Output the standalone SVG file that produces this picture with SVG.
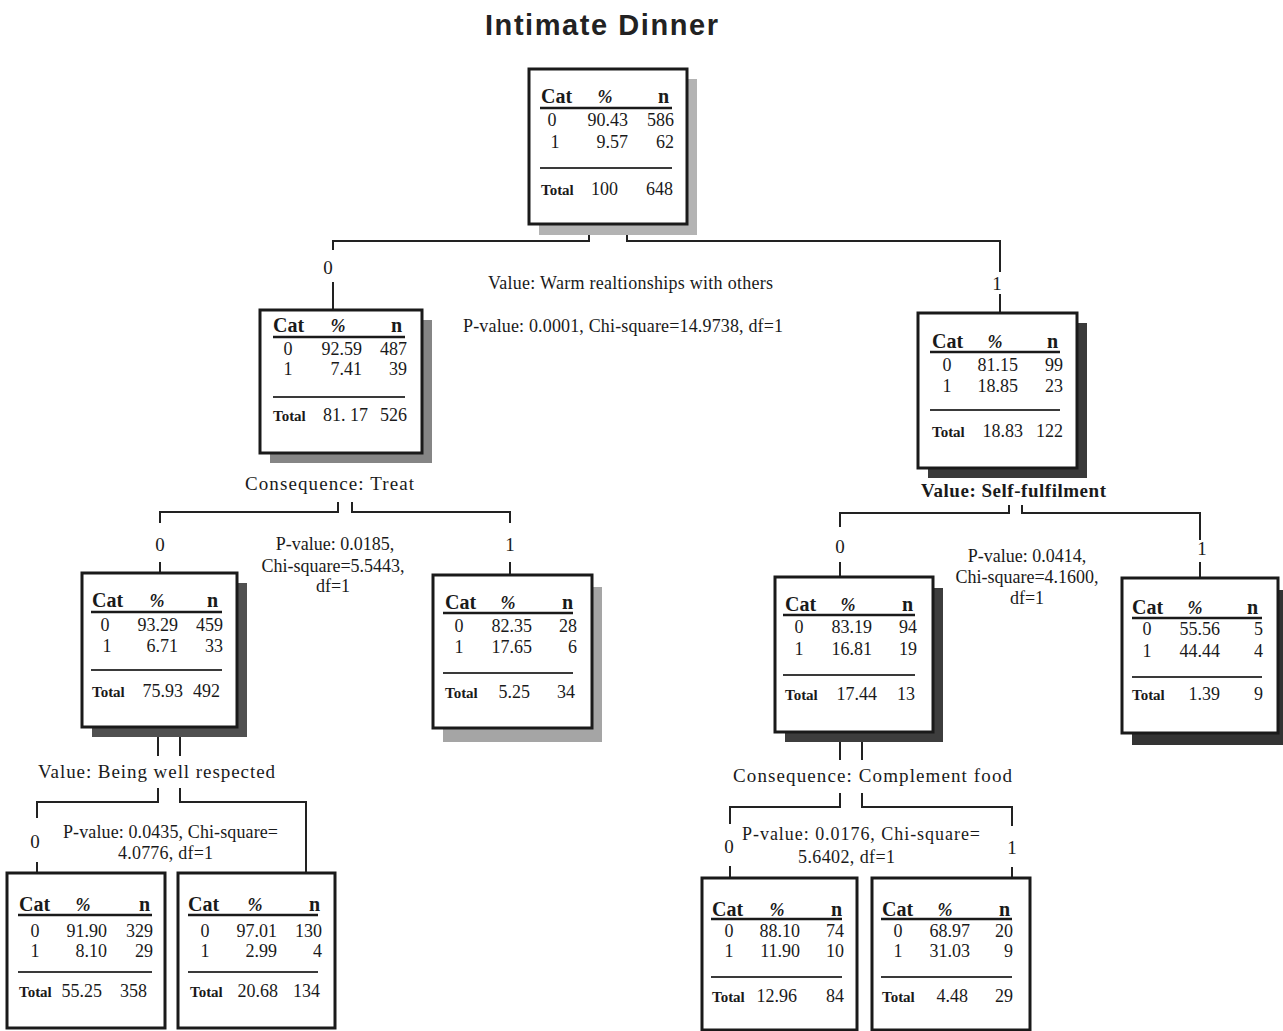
<svg xmlns="http://www.w3.org/2000/svg" width="1283" height="1031" viewBox="0 0 1283 1031">
<style>
text{fill:#1a1a1a;font-family:"Liberation Serif","DejaVu Serif",serif}
.title{font-family:"Liberation Sans",Arial,sans-serif;font-weight:bold;font-size:29px;fill:#222}
.box{fill:#fff;stroke:#1a1a1a;stroke-width:3}
.hd{font-weight:bold;font-size:20px}
.pc{font-weight:bold;font-style:italic;font-size:18px}
.v{font-size:18px}
.tot{font-weight:bold;font-size:15px}
.hl{stroke:#1a1a1a;stroke-width:2.5}
.sl{stroke:#3a3a3a;stroke-width:2}
.lbl{font-size:18px}
.big{font-size:19px}
.num{font-size:19px}
.conn{fill:none;stroke:#222;stroke-width:2}
.m{text-anchor:middle}
.e{text-anchor:end}
</style>
<rect width="1283" height="1031" fill="#fff"/>
<text class="title" x="485" y="35" textLength="233">Intimate Dinner</text>

<g id="connectors">
<path class="conn" d="M333,250 V241 H589 V233"/>
<path class="conn" d="M627,233 V241 H1000 V272"/>
<path class="conn" d="M333,282 V309"/>
<path class="conn" d="M1000,294 V313"/>
<path class="conn" d="M160,523 V512 H338 V502"/>
<path class="conn" d="M352,502 V512 H510 V523"/>
<path class="conn" d="M160,562 V573"/>
<path class="conn" d="M510,562 V575"/>
<path class="conn" d="M840,527 V513 H1009 V505"/>
<path class="conn" d="M1022,505 V513 H1200 V540"/>
<path class="conn" d="M840,562 V577"/>
<path class="conn" d="M1200,562 V578"/>
<path class="conn" d="M158,737 V756"/>
<path class="conn" d="M180,737 V756"/>
<path class="conn" d="M158,788 V802 H37 V818"/>
<path class="conn" d="M180,788 V802 H306 V873"/>
<path class="conn" d="M37,862 V873"/>
<path class="conn" d="M840,742 V760"/>
<path class="conn" d="M862,742 V760"/>
<path class="conn" d="M840,793 V807 H730 V824"/>
<path class="conn" d="M862,793 V807 H1012 V826"/>
<path class="conn" d="M730,866 V878"/>
<path class="conn" d="M1012,867 V878"/>
<text class="num m" x="328" y="274">0</text>
<text class="num m" x="997" y="290">1</text>
<text class="lbl" x="488" y="289" textLength="285">Value: Warm realtionships with others</text>
<text class="lbl" x="463" y="332" textLength="320">P-value: 0.0001, Chi-square=14.9738, df=1</text>
<text class="big" x="245" y="490" textLength="169">Consequence: Treat</text>
<text class="num m" x="160" y="551">0</text>
<text class="num m" x="510" y="551">1</text>
<text class="lbl m" x="335" y="550">P-value: 0.0185,</text>
<text class="lbl m" x="333" y="572">Chi-square=5.5443,</text>
<text class="lbl m" x="333" y="592">df=1</text>
<text class="big" x="921" y="497" textLength="185" style="font-weight:bold">Value: Self-fulfilment</text>
<text class="num m" x="840" y="553">0</text>
<text class="num m" x="1202" y="555">1</text>
<text class="lbl m" x="1027" y="562">P-value: 0.0414,</text>
<text class="lbl m" x="1027" y="583">Chi-square=4.1600,</text>
<text class="lbl m" x="1027" y="604">df=1</text>
<text class="big" x="38" y="778" textLength="237">Value: Being well respected</text>
<text class="num m" x="35" y="848">0</text>
<text class="lbl" x="63" y="838" textLength="215">P-value: 0.0435,  Chi-square=</text>
<text class="lbl" x="118" y="859" textLength="95">4.0776,  df=1</text>
<text class="big" x="733" y="782" textLength="279">Consequence:  Complement food</text>
<text class="num m" x="729" y="853">0</text>
<text class="num m" x="1012" y="854">1</text>
<text class="lbl" x="742" y="840" textLength="238">P-value: 0.0176,  Chi-square=</text>
<text class="lbl" x="798" y="863" textLength="97">5.6402,  df=1</text>
</g>

<g id="n0">
<rect x="539" y="79" width="158" height="156" fill="#b3b3b3"/>
<rect class="box" x="529" y="69" width="158" height="155"/>
<text class="hd" x="541" y="103">Cat</text><text class="pc m" x="605" y="103">%</text><text class="hd e" x="669" y="103">n</text>
<line class="hl" x1="540" y1="108" x2="672" y2="108"/>
<text class="v m" x="552" y="126">0</text><text class="v e" x="628" y="126">90.43</text><text class="v e" x="674" y="126">586</text>
<text class="v m" x="555" y="148">1</text><text class="v e" x="628" y="148">9.57</text><text class="v e" x="674" y="148">62</text>
<line class="sl" x1="540" y1="168" x2="672" y2="168"/>
<text class="tot" x="541" y="195">Total</text><text class="v e" x="618" y="195">100</text><text class="v e" x="673" y="195">648</text>
</g>

<g id="n1">
<rect x="270" y="320" width="162" height="143" fill="#858585"/>
<rect class="box" x="260" y="310" width="162" height="143"/>
<text class="hd" x="273" y="332">Cat</text><text class="pc m" x="338" y="332">%</text><text class="hd e" x="402" y="332">n</text>
<line class="hl" x1="273" y1="337" x2="405" y2="337"/>
<text class="v m" x="288" y="355">0</text><text class="v e" x="362" y="355">92.59</text><text class="v e" x="407" y="355">487</text>
<text class="v m" x="288" y="375">1</text><text class="v e" x="362" y="375">7.41</text><text class="v e" x="407" y="375">39</text>
<line class="sl" x1="273" y1="397" x2="405" y2="397"/>
<text class="tot" x="273" y="421">Total</text><text class="v e" x="368" y="421">81. 17</text><text class="v e" x="407" y="421">526</text>
</g>

<g id="n2">
<rect x="928" y="323" width="159" height="155" fill="#3a3a3a"/>
<rect class="box" x="918" y="313" width="159" height="155"/>
<text class="hd" x="932" y="348">Cat</text><text class="pc m" x="995" y="348">%</text><text class="hd e" x="1058" y="348">n</text>
<line class="hl" x1="930" y1="352" x2="1060" y2="352"/>
<text class="v m" x="947" y="371">0</text><text class="v e" x="1018" y="371">81.15</text><text class="v e" x="1063" y="371">99</text>
<text class="v m" x="947" y="392">1</text><text class="v e" x="1018" y="392">18.85</text><text class="v e" x="1063" y="392">23</text>
<line class="sl" x1="930" y1="410" x2="1060" y2="410"/>
<text class="tot" x="932" y="437">Total</text><text class="v e" x="1023" y="437">18.83</text><text class="v e" x="1063" y="437">122</text>
</g>

<g id="n3">
<rect x="92" y="583" width="155" height="154" fill="#505050"/>
<rect class="box" x="82" y="573" width="155" height="154"/>
<text class="hd" x="92" y="607">Cat</text><text class="pc m" x="157" y="607">%</text><text class="hd e" x="218" y="607">n</text>
<line class="hl" x1="91" y1="612" x2="222" y2="612"/>
<text class="v m" x="105" y="631">0</text><text class="v e" x="178" y="631">93.29</text><text class="v e" x="223" y="631">459</text>
<text class="v m" x="107" y="652">1</text><text class="v e" x="178" y="652">6.71</text><text class="v e" x="223" y="652">33</text>
<line class="sl" x1="91" y1="670" x2="222" y2="670"/>
<text class="tot" x="92" y="697">Total</text><text class="v e" x="183" y="697">75.93</text><text class="v e" x="220" y="697">492</text>
</g>

<g id="n4">
<rect x="443" y="587" width="159" height="155" fill="#a5a5a5"/>
<rect class="box" x="433" y="575" width="159" height="153"/>
<text class="hd" x="445" y="609">Cat</text><text class="pc m" x="508" y="609">%</text><text class="hd e" x="573" y="609">n</text>
<line class="hl" x1="443" y1="613" x2="573" y2="613"/>
<text class="v m" x="459" y="632">0</text><text class="v e" x="532" y="632">82.35</text><text class="v e" x="577" y="632">28</text>
<text class="v m" x="459" y="653">1</text><text class="v e" x="532" y="653">17.65</text><text class="v e" x="577" y="653">6</text>
<line class="sl" x1="443" y1="673" x2="573" y2="673"/>
<text class="tot" x="445" y="698">Total</text><text class="v e" x="530" y="698">5.25</text><text class="v e" x="575" y="698">34</text>
</g>

<g id="n5">
<rect x="785" y="588" width="158" height="154" fill="#3d3d3d"/>
<rect class="box" x="775" y="577" width="158" height="155"/>
<text class="hd" x="785" y="611">Cat</text><text class="pc m" x="848" y="611">%</text><text class="hd e" x="913" y="611">n</text>
<line class="hl" x1="783" y1="615" x2="915" y2="615"/>
<text class="v m" x="799" y="633">0</text><text class="v e" x="872" y="633">83.19</text><text class="v e" x="917" y="633">94</text>
<text class="v m" x="799" y="655">1</text><text class="v e" x="872" y="655">16.81</text><text class="v e" x="917" y="655">19</text>
<line class="sl" x1="783" y1="675" x2="915" y2="675"/>
<text class="tot" x="785" y="700">Total</text><text class="v e" x="877" y="700">17.44</text><text class="v e" x="915" y="700">13</text>
</g>

<g id="n6">
<rect x="1132" y="590" width="156" height="155" fill="#333"/>
<rect class="box" x="1122" y="578" width="156" height="155"/>
<text class="hd" x="1132" y="614">Cat</text><text class="pc m" x="1195" y="614">%</text><text class="hd e" x="1258" y="614">n</text>
<line class="hl" x1="1132" y1="618" x2="1262" y2="618"/>
<text class="v m" x="1147" y="635">0</text><text class="v e" x="1220" y="635">55.56</text><text class="v e" x="1263" y="635">5</text>
<text class="v m" x="1147" y="657">1</text><text class="v e" x="1220" y="657">44.44</text><text class="v e" x="1263" y="657">4</text>
<line class="sl" x1="1132" y1="677" x2="1262" y2="677"/>
<text class="tot" x="1132" y="700">Total</text><text class="v e" x="1220" y="700">1.39</text><text class="v e" x="1263" y="700">9</text>
</g>

<g id="n7">
<rect class="box" x="7" y="873" width="158" height="155"/>
<text class="hd" x="19" y="911">Cat</text><text class="pc m" x="83" y="911">%</text><text class="hd e" x="150" y="911">n</text>
<line class="hl" x1="18" y1="915" x2="152" y2="915"/>
<text class="v m" x="35" y="937">0</text><text class="v e" x="107" y="937">91.90</text><text class="v e" x="153" y="937">329</text>
<text class="v m" x="35" y="957">1</text><text class="v e" x="107" y="957">8.10</text><text class="v e" x="153" y="957">29</text>
<line class="sl" x1="18" y1="972" x2="152" y2="972"/>
<text class="tot" x="19" y="997">Total</text><text class="v e" x="102" y="997">55.25</text><text class="v e" x="147" y="997">358</text>
</g>

<g id="n8">
<rect class="box" x="178" y="873" width="157" height="155"/>
<text class="hd" x="188" y="911">Cat</text><text class="pc m" x="255" y="911">%</text><text class="hd e" x="320" y="911">n</text>
<line class="hl" x1="188" y1="915" x2="318" y2="915"/>
<text class="v m" x="205" y="937">0</text><text class="v e" x="277" y="937">97.01</text><text class="v e" x="322" y="937">130</text>
<text class="v m" x="205" y="957">1</text><text class="v e" x="277" y="957">2.99</text><text class="v e" x="322" y="957">4</text>
<line class="sl" x1="188" y1="972" x2="318" y2="972"/>
<text class="tot" x="190" y="997">Total</text><text class="v e" x="278" y="997">20.68</text><text class="v e" x="320" y="997">134</text>
</g>

<g id="n9">
<rect class="box" x="702" y="878" width="155" height="152"/>
<text class="hd" x="712" y="916">Cat</text><text class="pc m" x="777" y="916">%</text><text class="hd e" x="842" y="916">n</text>
<line class="hl" x1="711" y1="919" x2="842" y2="919"/>
<text class="v m" x="729" y="937">0</text><text class="v e" x="800" y="937">88.10</text><text class="v e" x="844" y="937">74</text>
<text class="v m" x="729" y="957">1</text><text class="v e" x="800" y="957">11.90</text><text class="v e" x="844" y="957">10</text>
<line class="sl" x1="711" y1="977" x2="842" y2="977"/>
<text class="tot" x="712" y="1002">Total</text><text class="v e" x="797" y="1002">12.96</text><text class="v e" x="844" y="1002">84</text>
</g>

<g id="n10">
<rect class="box" x="872" y="878" width="158" height="152"/>
<text class="hd" x="882" y="916">Cat</text><text class="pc m" x="945" y="916">%</text><text class="hd e" x="1010" y="916">n</text>
<line class="hl" x1="881" y1="919" x2="1012" y2="919"/>
<text class="v m" x="898" y="937">0</text><text class="v e" x="970" y="937">68.97</text><text class="v e" x="1013" y="937">20</text>
<text class="v m" x="898" y="957">1</text><text class="v e" x="970" y="957">31.03</text><text class="v e" x="1013" y="957">9</text>
<line class="sl" x1="881" y1="977" x2="1012" y2="977"/>
<text class="tot" x="882" y="1002">Total</text><text class="v e" x="968" y="1002">4.48</text><text class="v e" x="1013" y="1002">29</text>
</g>
</svg>
